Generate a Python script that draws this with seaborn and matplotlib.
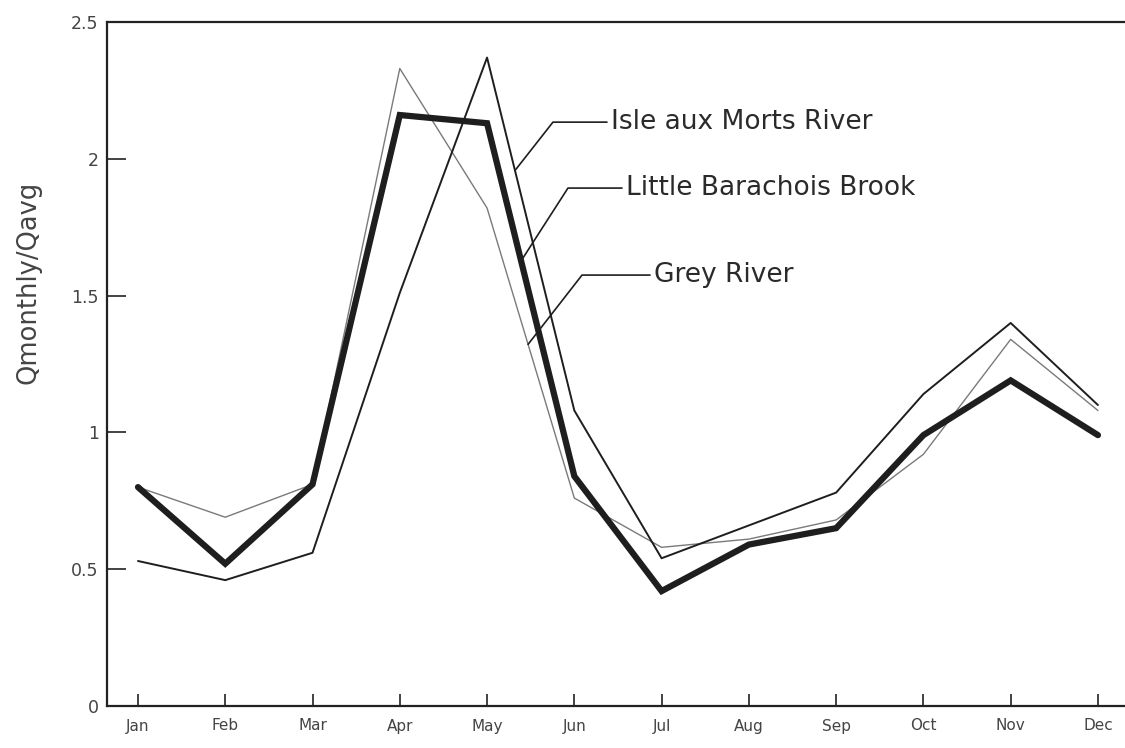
import numpy as np
import pandas as pd
import matplotlib
matplotlib.use("Agg")
import matplotlib.pyplot as plt
import seaborn as sns

months = ["Jan", "Feb", "Mar", "Apr", "May", "Jun",
          "Jul", "Aug", "Sep", "Oct", "Nov", "Dec"]
isle_aux_morts = [0.53, 0.46, 0.56, 1.51, 2.37, 1.08, 0.54, 0.66, 0.78, 1.14, 1.40, 1.10]
little_barachois = [0.80, 0.52, 0.81, 2.16, 2.13, 0.84, 0.42, 0.59, 0.65, 0.99, 1.19, 0.99]
grey_river = [0.80, 0.69, 0.81, 2.33, 1.82, 0.76, 0.58, 0.61, 0.68, 0.92, 1.34, 1.08]
y_ticks = [0, 0.5, 1, 1.5, 2, 2.5]
y_tick_labels = ["0", "0.5", "1", "1.5", "2", "2.5"]

sns.set_style("white")
plt.rcParams["font.family"] = ["DejaVu Sans"]

x = np.arange(len(months))
df = pd.DataFrame({"month": x, "isle": isle_aux_morts,
                   "little": little_barachois, "grey": grey_river})

fig = plt.figure(figsize=(11.25, 7.48), dpi=100)
ax = fig.add_axes([107 / 1125, 1 - 706 / 748, 1 - 107 / 1125, (706 - 22) / 748])

sns.lineplot(data=df, x="month", y="grey", ax=ax, color="#7a7a7a", lw=1.0)
sns.lineplot(data=df, x="month", y="isle", ax=ax, color="#1e1e1e", lw=1.4)
sns.lineplot(data=df, x="month", y="little", ax=ax, color="#1e1e1e", lw=4.5,
             solid_joinstyle="miter")

ax.set_xlim(-0.355, 11.31)
ax.set_ylim(0, 2.5)
ax.set_xticks(x)
ax.set_xticklabels(months, fontsize=11, color="#444444")
ax.set_yticks(y_ticks)
ax.set_yticklabels(y_tick_labels, fontsize=12.5, color="#444444")
ax.tick_params(axis="x", bottom=True, direction="in", length=9, width=1.2,
               color="#222222", pad=9)
ax.tick_params(axis="y", left=True, direction="in", length=14, width=1.2,
               color="#222222", pad=6)
ax.set_xlabel("")
ax.set_ylabel("Qmonthly/Qavg", fontsize=18.5, color="#444444")
ax.yaxis.set_label_coords(-0.064, 0.62)

for side in ["left", "bottom", "top"]:
    ax.spines[side].set_color("#222222")
    ax.spines[side].set_linewidth(1.6)
ax.spines["right"].set_visible(False)

# Leader lines from each river name down to its curve on the May-Jun descent
labels = [
    ("Isle aux Morts River", isle_aux_morts, 4.32, 4.755, 2.134, 5.374),
    ("Little Barachois Brook", little_barachois, 4.39, 4.927, 1.893, 5.546),
    ("Grey River", grey_river, 4.47, 5.088, 1.575, 5.867),
]
for name, series, x0, xk, yk, x1 in labels:
    y0 = np.interp(x0, x, series)
    ax.plot([x0, xk, x1], [y0, yk, yk], color="#1e1e1e", lw=1.2)
    ax.text(x1 + 0.05, yk, name, fontsize=19, color="#2a2a2a",
            va="center", ha="left")

fig.savefig("out.png", dpi=100)
